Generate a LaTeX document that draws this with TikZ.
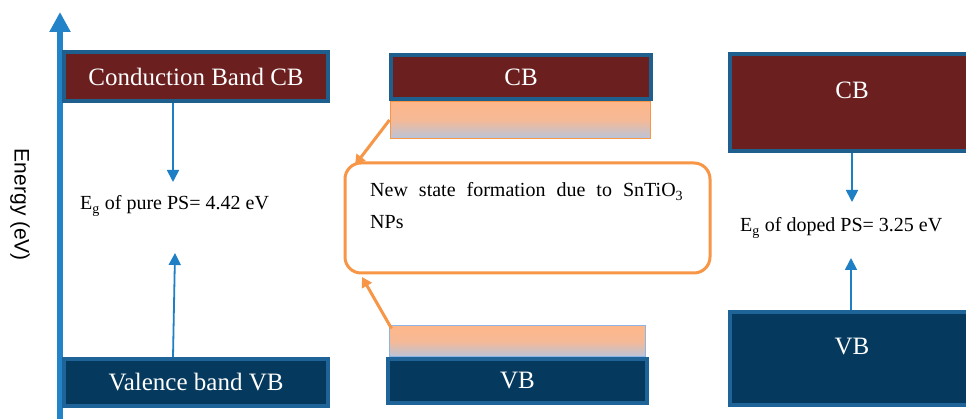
\documentclass[tikz,border=0pt]{standalone}
\usepackage{fontspec}
\setmainfont{Liberation Serif}
\newfontfamily\labelsans{Liberation Sans}
\usetikzlibrary{arrows.meta,shapes.misc}
\definecolor{cbred}{HTML}{6B1F1F}
\definecolor{bandedge}{HTML}{1F5F8E}
\definecolor{vbnavy}{HTML}{053A5E}
\definecolor{vbedge}{HTML}{1F6498}
\definecolor{axisblue}{HTML}{2383C8}
\definecolor{arrowblue}{HTML}{1E7FC4}
\definecolor{orangeln}{HTML}{F79646}
\definecolor{peach}{HTML}{FFB78A}
\definecolor{greyblue}{HTML}{B8C4DA}
\definecolor{lightedge}{HTML}{8EB4E3}
\tikzset{
  cbband/.style={draw=bandedge, line width=4pt, fill=cbred, text=white, inner sep=0pt,
    font=\fontsize{25}{30}\selectfont},
  vbband/.style={draw=vbedge, line width=4pt, fill=vbnavy, text=white, inner sep=0pt,
    font=\fontsize{25}{30}\selectfont},
  newstate/.style={inner sep=0pt, top color=peach, bottom color=greyblue, middle color=peach!85!greyblue},
  gaparrow/.style={draw=arrowblue, line width=1.8pt, -{Triangle[width=12pt,length=12pt]}},
  orangearrow/.style={draw=orangeln, line width=3pt, -{Triangle[width=11pt,length=10pt]}},
  gaptext/.style={inner sep=0pt, font=\fontsize{20}{24}\selectfont},
  infobox/.style={draw=orangeln, line width=3pt, rounded corners=16pt, fill=white, inner sep=0pt},
}
\begin{document}
\begin{tikzpicture}[x=1pt,y=-1pt]
\useasboundingbox (0,0) rectangle (966,419);
\fill[white] (0,0) rectangle (966,419);
% axis
\coordinate (axbot) at (60,419);
\coordinate (axtop) at (60,12);
\draw[axisblue, line width=6pt, -{Triangle[width=20pt,length=20pt]}] (axbot) -- (axtop);
\node[rotate=-90, inner sep=0pt, font=\labelsans\fontsize{21}{25}\selectfont] (energy) at (20,205) {Energy (eV)};

% left column
\node[cbband, minimum width=264pt, minimum height=49pt] (cbL) at (196,76.5) {Conduction Band CB};
\node[vbband, minimum width=264pt, minimum height=47pt] (vbL) at (196,382.5) {Valence band VB};
\node[gaptext, anchor=west] (egL) at (80,206) {E\textsubscript{g} of pure PS= 4.42 eV};
\coordinate (dnL) at (173,182);
\coordinate (upL) at (175,253);
\draw[gaparrow] (cbL.south -| dnL) -- (dnL);
\draw[gaparrow] ([xshift=-23pt]vbL.north) -- (upL);

% middle column
\node[cbband, minimum width=260pt, minimum height=44pt] (cbM) at (521,77) {CB};
\node[newstate, draw=orangeln, line width=1pt, minimum width=260pt, minimum height=37pt] (gtop) at (520,120) {};
\node[newstate, draw=lightedge, line width=1pt, minimum width=256pt, minimum height=31pt] (gbot) at (517,341.5) {};
\node[vbband, minimum width=259pt, minimum height=44pt] (vbM) at (517.5,381) {VB};
\node[infobox, minimum width=365pt, minimum height=110pt] (info) at (527.5,218) {};
\node[inner sep=0pt, anchor=west, font=\fontsize{20}{32}\selectfont] (infotext) at (370,206)
  {\parbox{313pt}{New state formation due to SnTiO\textsubscript{3}\linebreak NPs}};
\coordinate (infoTL) at (355,165);
\coordinate (infoBL) at (362,277);
\draw[orangearrow] (gtop.west) -- (infoTL);
\draw[orangearrow] ([xshift=3pt,yshift=-3pt]gbot.north west) -- (infoBL);

% right column
\node[cbband, minimum width=245pt, minimum height=97pt] (cbR) at (852.5,102.5) {};
\node[inner sep=0pt, text=white, font=\fontsize{25}{30}\selectfont] (cbRt) at (852,90) {CB};
\node[vbband, minimum width=245pt, minimum height=93pt] (vbR) at (852.5,358.5) {};
\node[inner sep=0pt, text=white, font=\fontsize{25}{30}\selectfont] (vbRt) at (852,347) {VB};
\node[gaptext, anchor=west] (egR) at (740,228) {E\textsubscript{g} of doped PS= 3.25 eV};
\coordinate (dnR) at (852,202);
\coordinate (upR) at (851,258);
\draw[gaparrow] (cbR.south -| dnR) -- (dnR);
\draw[gaparrow] (vbR.north -| upR) -- (upR);
\end{tikzpicture}
\end{document}
